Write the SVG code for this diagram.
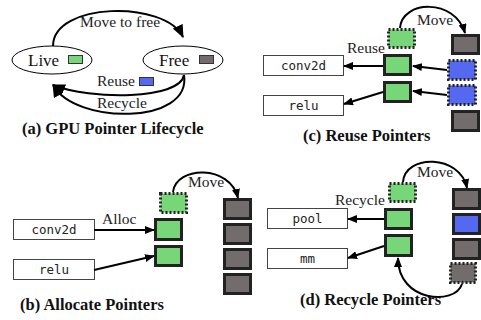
<svg xmlns="http://www.w3.org/2000/svg" width="481" height="320" viewBox="0 0 481 320">
<defs>
<marker id="ah" viewBox="0 0 10 8" refX="9" refY="4" markerWidth="10" markerHeight="8" markerUnits="userSpaceOnUse" orient="auto"><path d="M0,0 L10,4 L0,8 z" fill="#000"/></marker>
<marker id="ahL" viewBox="0 0 12 10" refX="11" refY="5" markerWidth="13" markerHeight="11" markerUnits="userSpaceOnUse" orient="auto"><path d="M0,0 L12,5 L0,10 z" fill="#000"/></marker>
</defs>
<style>
.lbl{font-family:"Liberation Serif",serif;font-size:15.5px;fill:#222}
.big{font-family:"Liberation Serif",serif;font-size:17px;fill:#111}
.ttl{font-family:"Liberation Serif",serif;font-size:16.5px;font-weight:bold;fill:#111}
.code{font-family:"DejaVu Sans Mono",monospace;font-size:12.5px;fill:#222;text-anchor:middle}
.op{fill:#fff;stroke:#444;stroke-width:1}
.g{fill:#77d677;stroke:#222;stroke-width:3}
.gd{fill:#77d677;stroke:#222;stroke-width:3;stroke-dasharray:2 2}
.k{fill:#726c6c;stroke:#222;stroke-width:3}
.kd{fill:#726c6c;stroke:#222;stroke-width:3;stroke-dasharray:2 2}
.b{fill:#5568f0;stroke:#222;stroke-width:3}
.bd{fill:#5568f0;stroke:#222;stroke-width:3;stroke-dasharray:2 2}
.sw{stroke:#333;stroke-width:1}
.st{fill:#fff;stroke:#000;stroke-width:1}
.c{fill:none;stroke:#000;stroke-width:2}
</style>

<!-- Panel (a) -->
<g id="live">
<ellipse class="st" cx="52" cy="60" rx="40" ry="14"/>
<text class="big" x="28" y="66">Live</text>
<rect class="sw" x="68.5" y="55.5" width="14" height="8" fill="#77d677"/>
</g>
<g id="free">
<ellipse class="st" cx="183" cy="60" rx="40" ry="14"/>
<text class="big" x="159" y="66">Free</text>
<rect class="sw" x="199.5" y="55.5" width="14" height="8" fill="#726c6c"/>
</g>
<g id="edges-a">
<path class="c" d="M53,46 C53,2 165,0 183,37" marker-end="url(#ahL)"/>
<path class="c" d="M184,75 C180,100 90,100 53,85" marker-end="url(#ahL)"/>
<path class="c" d="M184,75 C192,125 75,125 53,85" marker-end="url(#ahL)"/>
</g>
<g id="labels-a">
<text class="lbl" x="80" y="27">Move to free</text>
<text class="lbl" x="97" y="86">Reuse</text>
<rect class="sw" x="139.5" y="77.5" width="14" height="8" fill="#5568f0"/>
<text class="lbl" x="97" y="108">Recycle</text>
<text class="ttl" x="22" y="134">(a) GPU Pointer Lifecycle</text>
</g>

<!-- Panel (c) -->
<g id="c-conv2d"><rect class="op" x="263.5" y="55.5" width="80" height="20"/><text class="code" x="303.5" y="70">conv2d</text></g>
<g id="c-relu"><rect class="op" x="263.5" y="95.5" width="80" height="20"/><text class="code" x="303.5" y="110">relu</text></g>
<g id="c-boxes">
<rect class="gd" x="388.5" y="29.5" width="26" height="18"/>
<rect class="g" x="384.5" y="55.5" width="26" height="19"/>
<rect class="g" x="384.5" y="82.5" width="26" height="19"/>
<rect class="k" x="452.5" y="35.5" width="26" height="18"/>
<rect class="bd" x="448.5" y="60.5" width="27" height="19"/>
<rect class="bd" x="448.5" y="85.5" width="27" height="19"/>
<rect class="k" x="452.5" y="111.5" width="26" height="19"/>
</g>
<g id="c-edges">
<path class="c" d="M400,28 C402,0 455,-2 465,33" marker-end="url(#ah)"/>
<line class="c" x1="447" y1="70" x2="413" y2="66" marker-end="url(#ah)"/>
<line class="c" x1="447" y1="95" x2="413" y2="91" marker-end="url(#ah)"/>
<line class="c" x1="383" y1="66" x2="344" y2="66" marker-end="url(#ah)"/>
<line class="c" x1="383" y1="92" x2="344" y2="104" marker-end="url(#ah)"/>
</g>
<g id="c-labels">
<text class="lbl" x="417" y="25">Move</text>
<text class="lbl" x="347" y="53">Reuse</text>
<text class="ttl" x="303" y="141">(c) Reuse Pointers</text>
</g>

<!-- Panel (b) -->
<g id="b-conv2d"><rect class="op" x="13.5" y="219.5" width="81" height="20"/><text class="code" x="54" y="234">conv2d</text></g>
<g id="b-relu"><rect class="op" x="13.5" y="259.5" width="81" height="20"/><text class="code" x="54" y="274">relu</text></g>
<g id="b-boxes">
<rect class="gd" x="160.5" y="193.5" width="26" height="19"/>
<rect class="g" x="155.5" y="219.5" width="26" height="20"/>
<rect class="g" x="155.5" y="246.5" width="26" height="19"/>
<rect class="k" x="224.5" y="199.5" width="26" height="19"/>
<rect class="k" x="224.5" y="224.5" width="26" height="19"/>
<rect class="k" x="224.5" y="249.5" width="26" height="19"/>
<rect class="k" x="224.5" y="274.5" width="26" height="19"/>
</g>
<g id="b-edges">
<path class="c" d="M173,192 C176,166 230,164 238,198" marker-end="url(#ah)"/>
<line class="c" x1="94" y1="230" x2="154" y2="230" marker-end="url(#ah)"/>
<line class="c" x1="94" y1="270" x2="154" y2="256" marker-end="url(#ah)"/>
</g>
<g id="b-labels">
<text class="lbl" x="188" y="187">Move</text>
<text class="lbl" x="102" y="224">Alloc</text>
<text class="ttl" x="20" y="310">(b) Allocate Pointers</text>
</g>

<!-- Panel (d) -->
<g id="d-pool"><rect class="op" x="267.5" y="208.5" width="80" height="20"/><text class="code" x="307.5" y="223">pool</text></g>
<g id="d-mm"><rect class="op" x="267.5" y="248.5" width="80" height="20"/><text class="code" x="307.5" y="263">mm</text></g>
<g id="d-boxes">
<rect class="gd" x="389.5" y="183.5" width="26" height="18"/>
<rect class="g" x="385.5" y="209.5" width="26" height="19"/>
<rect class="g" x="385.5" y="235.5" width="26" height="20"/>
<rect class="k" x="453.5" y="189.5" width="26" height="19"/>
<rect class="b" x="453.5" y="214.5" width="26" height="19"/>
<rect class="k" x="453.5" y="239.5" width="26" height="19"/>
<rect class="kd" x="450.5" y="263.5" width="25" height="19"/>
</g>
<g id="d-edges">
<path class="c" d="M403,182 C405,154 460,154 467,188" marker-end="url(#ah)"/>
<path class="c" d="M462,284 C455,306 398,302 398,258" marker-end="url(#ah)"/>
<line class="c" x1="384" y1="219" x2="348" y2="219" marker-end="url(#ah)"/>
<line class="c" x1="384" y1="246" x2="348" y2="258" marker-end="url(#ah)"/>
</g>
<g id="d-labels">
<text class="lbl" x="417" y="177">Move</text>
<text class="lbl" x="335" y="205">Recycle</text>
<text class="ttl" x="300" y="305">(d) Recycle Pointers</text>
</g>
</svg>
